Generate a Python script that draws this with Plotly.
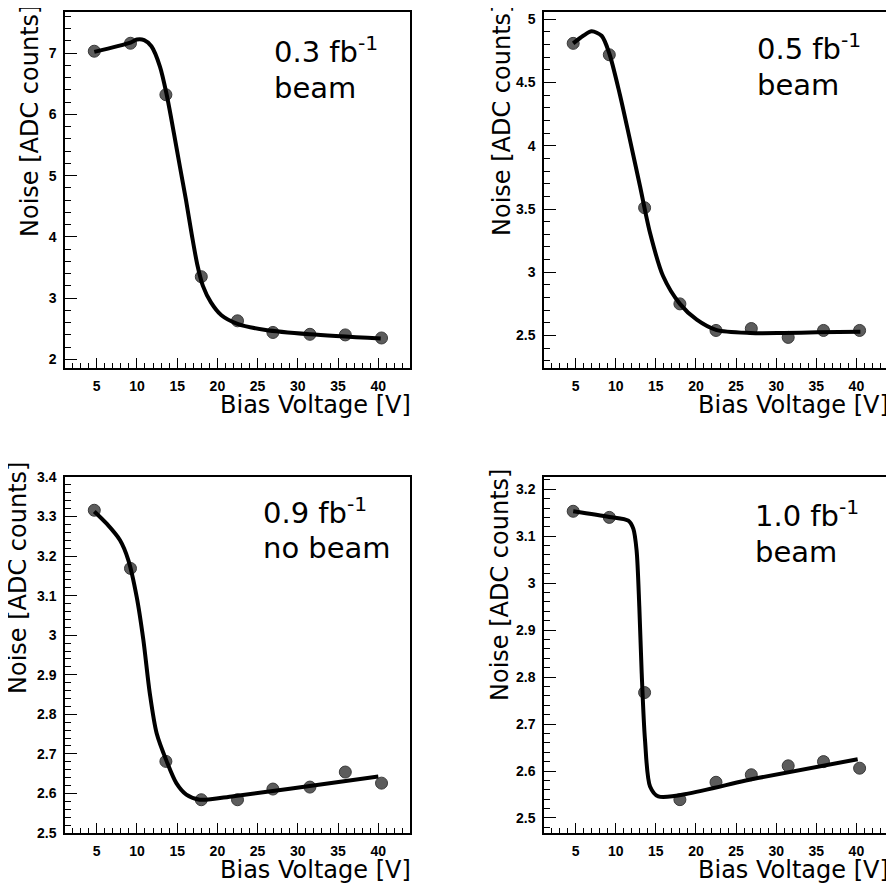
import plotly.graph_objects as go

# the page puts the figure 8 px in from the window corner, so the figure is
# 8 px smaller and every pixel position below is measured in window pixels
W, H = 894, 884
OFF = 8
FW, FH = W - OFF, H - OFF

# measured bias points (same for all four runs)
bias = [4.7, 9.2, 13.6, 18.0, 22.5, 26.9, 31.5, 35.9, 40.4]

noise_03 = [7.03, 7.16, 6.32, 3.35, 2.63, 2.44, 2.41, 2.40, 2.35]
noise_05 = [4.81, 4.72, 3.51, 2.75, 2.54, 2.555, 2.485, 2.54, 2.54]
noise_09 = [3.316, 3.169, 2.681, 2.584, 2.584, 2.611, 2.616, 2.654, 2.626]
noise_10 = [3.153, 3.14, 2.767, 2.539, 2.576, 2.592, 2.611, 2.620, 2.606]

# fit curves
fit_03_x = [4.7, 9.2, 10.0, 10.9, 11.8, 12.86, 13.7, 14.6, 15.35, 16.1, 16.8, 17.5, 18.2, 19.2, 20.5, 22.5, 26.0, 31.5, 40.3]
fit_03_y = [7.02, 7.17, 7.22, 7.21, 7.11, 6.78, 6.32, 5.69, 5.14, 4.6, 4.05, 3.55, 3.2, 2.93, 2.72, 2.58, 2.48, 2.41, 2.34]
fit_05_x = [4.7, 5.95, 7.0, 8.24, 9.2, 10.5, 11.78, 13.03, 14.28, 15.9, 18.0, 20.1, 22.5, 26.8, 30.9, 35.1, 40.5]
fit_05_y = [4.81, 4.87, 4.905, 4.87, 4.73, 4.41, 4.045, 3.68, 3.31, 2.97, 2.75, 2.625, 2.545, 2.52, 2.52, 2.525, 2.53]
fit_09_x = [4.7, 6.24, 7.9, 8.93, 9.97, 10.8, 11.6, 12.45, 13.7, 14.9, 16.14, 17.8, 22.0, 29.0, 40.0]
fit_09_y = [3.313, 3.282, 3.24, 3.19, 3.097, 2.988, 2.853, 2.752, 2.681, 2.626, 2.597, 2.584, 2.593, 2.612, 2.643]
fit_10_x = [4.7, 9.2, 11.57, 12.19, 12.6, 12.94, 13.24, 13.65, 14.28, 15.3, 27.7, 40.16]
fit_10_y = [3.153, 3.141, 3.133, 3.116, 3.07, 2.95, 2.808, 2.666, 2.567, 2.546, 2.585, 2.625]

lumi_labels = ["0.3 fb<sup>-1</sup>", "0.5 fb<sup>-1</sup>", "0.9 fb<sup>-1</sup>", "1.0 fb<sup>-1</sup>"]
beam_labels = ["beam", "beam", "no beam", "beam"]

# pixel boxes of each frame: left, right, top, bottom
boxes = [(65, 410, 12, 368), (544, 888, 12, 368), (65, 410, 477, 833), (544, 888, 477, 833)]
y_ranges = [[1.86, 7.67], [2.243, 5.058], [2.4999, 3.4001], [2.468, 3.226]]
y_dticks = [1, 0.5, 0.1, 0.1]
y_minor = [0.2, 0.1, 0.02, 0.02]
# label positions in pixels (left, line-1 centre, line-2 centre)
label_pos = [(272, 50, 88), (755, 47, 85), (261, 511, 548), (753, 514, 552)]
# y-title centre x and top y in pixels
ytitle_pos = [(30, 3), (502, 2), (18, 460), (500, 467)]

series = [(noise_03, fit_03_x, fit_03_y), (noise_05, fit_05_x, fit_05_y),
          (noise_09, fit_09_x, fit_09_y), (noise_10, fit_10_x, fit_10_y)]


def px(x):
    return (x - OFF) / FW


def py(y):
    return 1 - (y - OFF) / FH


fig = go.Figure()
tick_font = dict(family="Liberation Sans, Arial", size=14, color="black", weight="bold")
title_font = dict(family="DejaVu Sans", size=24, color="black")
label_font = dict(family="DejaVu Sans", size=29, color="black")
annotations = []

for i, (noise, fx, fy) in enumerate(series):
    n = i + 1
    xa = "x" if n == 1 else f"x{n}"
    ya = "y" if n == 1 else f"y{n}"
    l, r, t, b = boxes[i]

    fig.add_trace(go.Scatter(
        x=bias, y=noise, mode="markers", xaxis=xa, yaxis=ya,
        marker=dict(size=12, color="#5c5c5c", line=dict(color="#3a3a3a", width=1)),
        showlegend=False
    ))
    fig.add_trace(go.Scatter(
        x=fx, y=fy, mode="lines", xaxis=xa, yaxis=ya,
        line=dict(color="black", width=4, shape="spline", smoothing=0.8),
        showlegend=False
    ))

    fig.layout[f"xaxis{'' if n == 1 else n}"] = dict(
        domain=[px(l), min(px(r), 1)], anchor=ya, range=[1.06, 43.94],
        tick0=0, dtick=5, ticks="inside", ticklen=10, tickwidth=1, tickcolor="black",
        minor=dict(dtick=1, ticks="inside", ticklen=5, tickwidth=1, tickcolor="black"),
        showline=True, linecolor="black", linewidth=1.5, mirror=True,
        showgrid=False, zeroline=False, tickfont=tick_font, ticklabelstandoff=4,
        fixedrange=True
    )
    fig.layout[f"yaxis{'' if n == 1 else n}"] = dict(
        domain=[py(b), py(t)], anchor=xa, range=y_ranges[i],
        tick0=0, dtick=y_dticks[i], ticks="inside", ticklen=12, tickwidth=1, tickcolor="black",
        minor=dict(dtick=y_minor[i], ticks="inside", ticklen=6, tickwidth=1, tickcolor="black"),
        showline=True, linecolor="black", linewidth=1.5, mirror=True,
        showgrid=False, zeroline=False, tickfont=tick_font, ticklabelstandoff=4,
        fixedrange=True
    )

    # axis titles aligned to the frame ends, ROOT style
    annotations.append(dict(
        text="Bias Voltage [V]", xref="paper", yref="paper",
        x=px(r + 3), y=py(b + 37), xanchor="right", yanchor="middle",
        showarrow=False, font=title_font
    ))
    tx, ty = ytitle_pos[i]
    annotations.append(dict(
        text="Noise [ADC counts]", xref="paper", yref="paper", textangle=-90,
        x=px(tx), y=py(ty), xanchor="center", yanchor="top",
        showarrow=False, font=title_font
    ))

    lx, ly1, ly2 = label_pos[i]
    annotations.append(dict(
        text=lumi_labels[i], xref="paper", yref="paper",
        x=px(lx), y=py(ly1), xanchor="left", yanchor="middle",
        showarrow=False, font=label_font
    ))
    annotations.append(dict(
        text=beam_labels[i], xref="paper", yref="paper",
        x=px(lx), y=py(ly2), xanchor="left", yanchor="middle",
        showarrow=False, font=label_font
    ))

fig.update_layout(
    width=FW, height=FH,
    margin=dict(l=0, r=0, t=0, b=0, autoexpand=False),
    paper_bgcolor="white", plot_bgcolor="white",
    annotations=annotations,
    showlegend=False
)

fig.write_html("out.html")
